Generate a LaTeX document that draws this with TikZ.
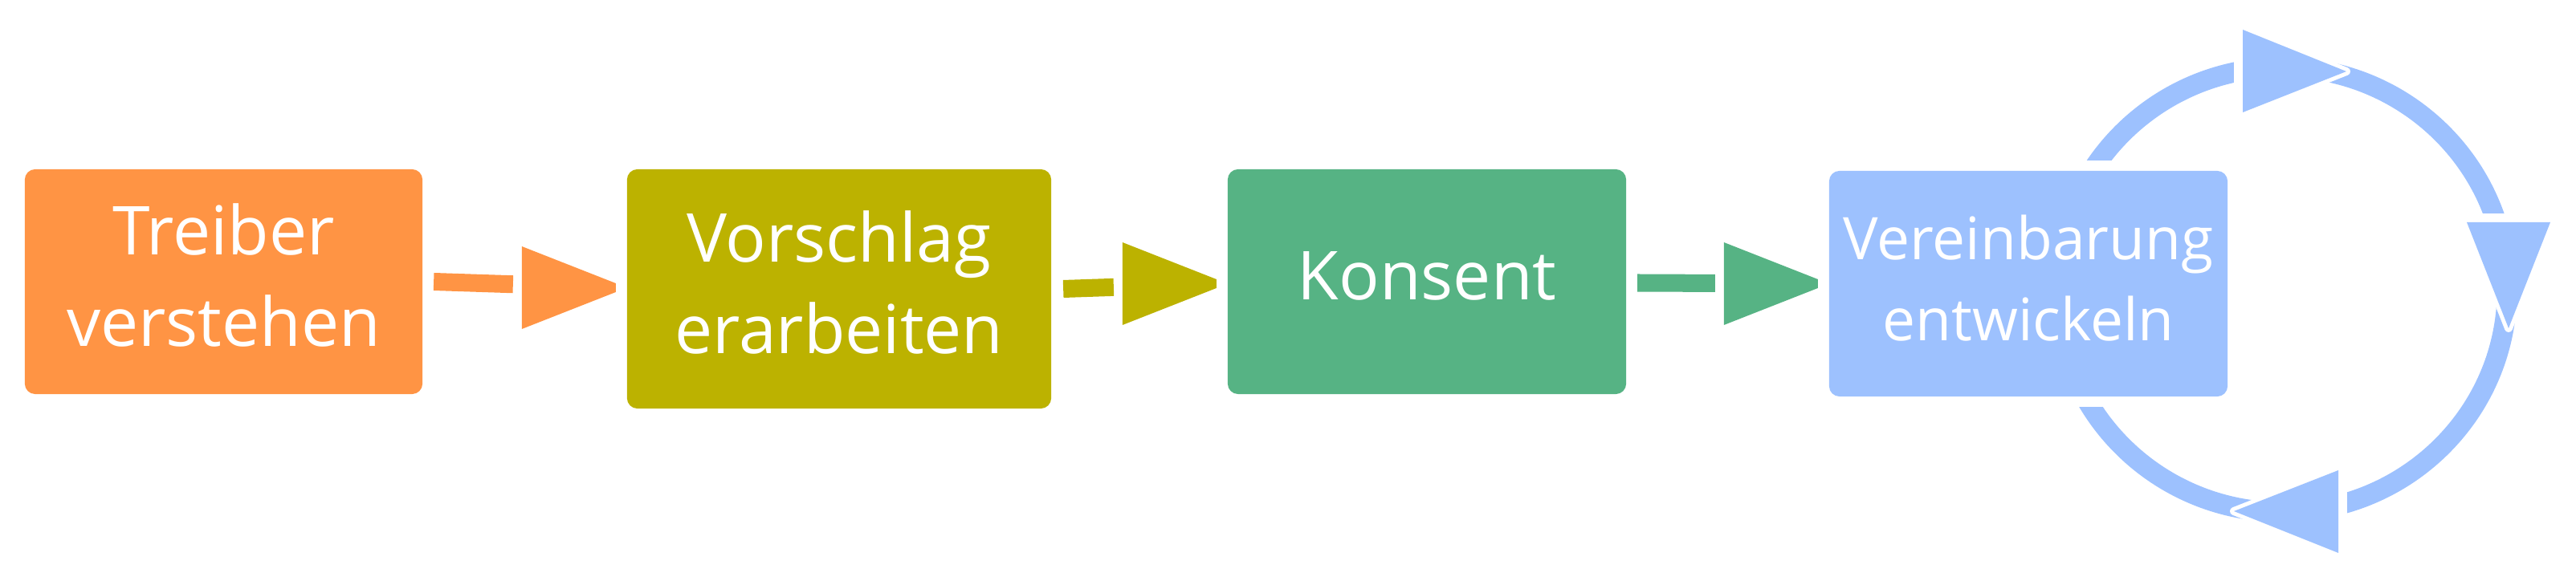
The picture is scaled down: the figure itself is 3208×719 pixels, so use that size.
\documentclass[tikz,border=0pt]{standalone}
\usepackage{fontspec}
\setmainfont{Open Sans}
\usetikzlibrary{calc}
\definecolor{corange}{HTML}{FF9444}
\definecolor{colive}{HTML}{BCB200}
\definecolor{cgreen}{HTML}{56B384}
\definecolor{cblue}{HTML}{9DC1FE}
\tikzset{
  stepbox/.style={rounded corners=0.13cm, minimum width=4.95cm, minimum height=2.80cm, inner sep=0pt, outer sep=0pt},
  boxtext/.style={text=white, align=center, inner sep=0pt, font=\fontsize{23.9pt}{32.4pt}\selectfont},
  smalltext/.style={boxtext, font=\fontsize{20.8pt}{28.9pt}\selectfont},
  cyclearc/.style={draw=cblue, line width=0.25cm},
  halo/.style={draw=white, line width=0.10cm, line join=round},
}
% #1 start coordinate, #2 tip coordinate, #3 colour
\newcommand\blockarrow[3]{%
  \draw[#3, line width=0.22cm] (#1) -- ($(#2)!1.28cm!(#1)$);
  \fill[#3] ($(#2)+(-117,-51.5)$) -- ($(#2)+(0,-5.5)$) -- ($(#2)+(0,5.5)$) -- ($(#2)+(-117,51.5)$) -- cycle;
}
\begin{document}
\begin{tikzpicture}[x=0.01cm, y=-0.01cm]
\useasboundingbox (0,0) rectangle (3208,719);

% boxes
\node[stepbox, fill=corange] (b1) at (278.5,351) {};
\node[stepbox, fill=colive, minimum width=5.28cm, minimum height=2.98cm] (b2) at (1045,360) {};
\node[stepbox, fill=cgreen, minimum width=4.96cm] (b3) at (1777,351) {};

% cycle around the last box
\draw[cyclearc] (2842,361) ellipse [x radius=2.80cm, y radius=2.77cm];
\fill[white] (2782,40) rectangle (2793,140);
\fill[white] (3070,266) rectangle (3180,277);
\fill[white] (2912,590) rectangle (2923,690);
\fill[white] (2480,200) rectangle (2700,507);
\draw[halo] (2793,37) -- (2922,89) -- (2793,140) -- cycle;
\fill[cblue] (2793,37) -- (2922,89) -- (2793,140) -- cycle;
\draw[halo] (3072,277) -- (3176,277) -- (3124,409) -- cycle;
\fill[cblue] (3072,277) -- (3176,277) -- (3124,409) -- cycle;
\draw[halo] (2912,586) -- (2912,689) -- (2782,637) -- cycle;
\fill[cblue] (2912,586) -- (2912,689) -- (2782,637) -- cycle;

\node[stepbox, fill=cblue, minimum width=4.96cm, minimum height=2.81cm] (b4) at (2526,353.5) {};

% texts
\node[boxtext] (t1) at ($(b1.center)+(0,-8)$) {Treiber\\verstehen};
\node[boxtext] (t2) at ($(b2.center)+(0,-8)$) {Vorschlag\\erarbeiten};
\node[boxtext] (t3) at ($(b3.center)+(0,-7)$) {Konsent};
\node[smalltext] (t4) at ($(b4.center)+(0,-7)$) {Vereinbarung\\entwickeln};

% connectors
\coordinate (a1s) at ($(b1.east)+(14,0)$);
\coordinate (a1t) at ($(b2.west)+(-14,-1.5)$);
\coordinate (a2s) at ($(b2.east)+(15,0)$);
\coordinate (a2t) at ($(b3.west)+(-14,2.5)$);
\coordinate (a3s) at ($(b3.east)+(14,1.5)$);
\coordinate (a3t) at ($(b4.west)+(-14,0)$);
\blockarrow{a1s}{a1t}{corange}
\blockarrow{a2s}{a2t}{colive}
\blockarrow{a3s}{a3t}{cgreen}
\end{tikzpicture}
\end{document}
